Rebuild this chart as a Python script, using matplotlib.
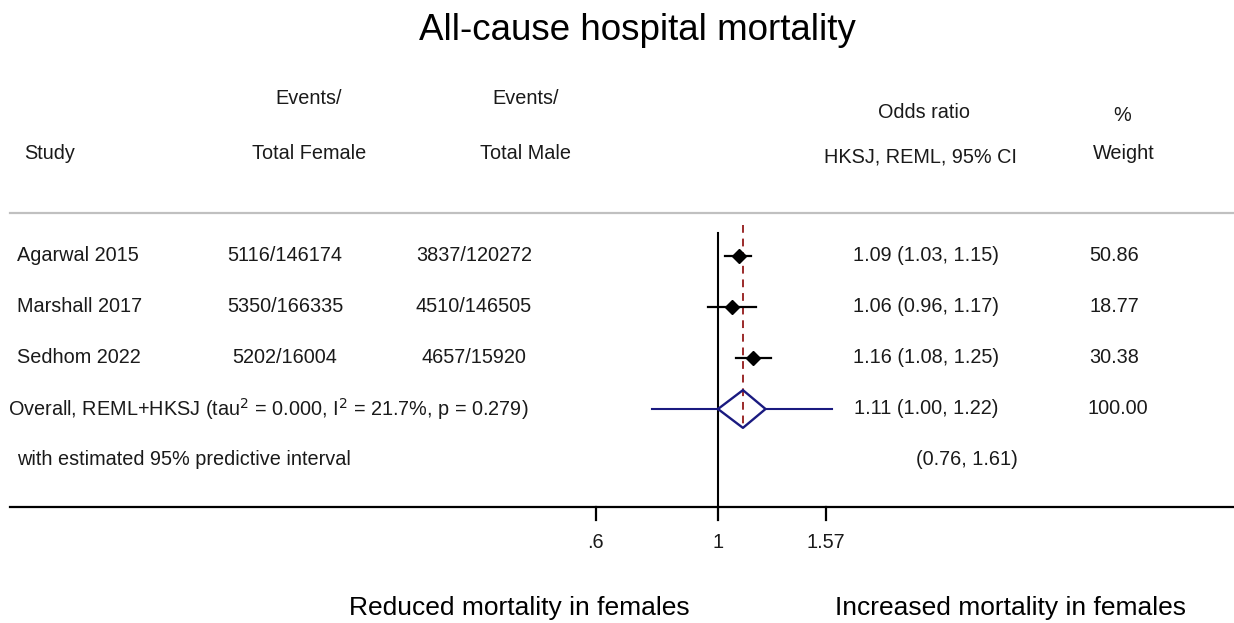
import numpy as np
import matplotlib
matplotlib.use("Agg")
import matplotlib.pyplot as plt
import matplotlib.transforms as mtransforms

plt.rcParams['font.family'] = ['Liberation Sans', 'DejaVu Sans']
plt.rcParams['text.color'] = '#1a1a1a'

# data
studies = ['Agarwal 2015', 'Marshall 2017', 'Sedhom 2022']
female = ['5116/146174', '5350/166335', '5202/16004']
male = ['3837/120272', '4510/146505', '4657/15920']
or_est = [1.09, 1.06, 1.16]
or_lo = [1.03, 0.96, 1.08]
or_hi = [1.15, 1.17, 1.25]
weights = ['50.86', '18.77', '30.38']

pooled = 1.11
pooled_lo = 1.00
pooled_hi = 1.22
pred_lo = 0.76
pred_hi = 1.61
tau2 = 0.000
i2 = 21.7
pval = 0.279

xticks = [0.6, 1, 1.57]
xtick_labels = ['.6', '1', '1.57']

W, H = 1234, 623
fig = plt.figure(figsize=(W / 100, H / 100), dpi=100)
ax = fig.add_axes([0, 0, 1, 1])
ax.set_xscale('log')

# log axis: 1 sits at pixel 718, ~239 px per ln unit
x_one, ppl = 718, 239.0
ax.set_xlim(np.exp((0 - x_one) / ppl), np.exp((W - x_one) / ppl))
# rows: row 0 at pixel 256, 51 px per row
y0, step = 256, 51.0
ax.set_ylim((H - y0) / step, (0 - y0) / step)
ax.axis('off')


def py(p):
    # pixel row -> data y
    return (p - y0) / step


tr = mtransforms.blended_transform_factory(fig.transFigure, ax.transData)


def col(px):
    return px / W


fs = 14.3
# title
ax.text(col(637), py(31), 'All-cause hospital mortality', transform=tr,
        ha='center', va='center', fontsize=26.5, color='black')

# headers
ax.text(col(309), py(98), 'Events/', transform=tr, ha='center', va='center', fontsize=fs)
ax.text(col(309), py(154), 'Total Female', transform=tr, ha='center', va='center', fontsize=fs)
ax.text(col(526), py(98), 'Events/', transform=tr, ha='center', va='center', fontsize=fs)
ax.text(col(526), py(154), 'Total Male', transform=tr, ha='center', va='center', fontsize=fs)
ax.text(col(24), py(154), 'Study', transform=tr, ha='left', va='center', fontsize=fs)
ax.text(col(924), py(113), 'Odds ratio', transform=tr, ha='center', va='center', fontsize=fs)
ax.text(col(920), py(157), 'HKSJ, REML, 95% CI', transform=tr, ha='center', va='center', fontsize=fs)
ax.text(col(1122), py(116), '%', transform=tr, ha='center', va='center', fontsize=fs)
ax.text(col(1124), py(154), 'Weight', transform=tr, ha='center', va='center', fontsize=fs)

# separator lines
ax.plot([col(10), 1], [py(213), py(213)], transform=tr, color='#c0c0c0', lw=1.6)
ax.plot([col(10), 1], [py(507), py(507)], transform=tr, color='black', lw=1.6)

rows = np.arange(len(studies))

# null line and pooled dashed line
ax.plot([1, 1], [py(233), py(507)], color='black', lw=1.5)
ax.plot([pooled, pooled], [py(225), py(425)], color='#9b2a2a', lw=1.4, ls=(0, (4, 3)))

for i in rows:
    ax.plot([or_lo[i], or_hi[i]], [i, i], color='black', lw=1.6)
    ax.plot(or_est[i], i, marker='D', color='black', ms=7.5)
    ax.text(col(17), i, studies[i], transform=tr, ha='left', va='center', fontsize=fs)
    ax.text(col(285), i, female[i], transform=tr, ha='center', va='center', fontsize=fs)
    ax.text(col(474), i, male[i], transform=tr, ha='center', va='center', fontsize=fs)
    ax.text(col(926), i, f'{or_est[i]:.2f} ({or_lo[i]:.2f}, {or_hi[i]:.2f})',
            transform=tr, ha='center', va='center', fontsize=fs)
    ax.text(col(1114), i, weights[i], transform=tr, ha='center', va='center', fontsize=fs)

# pooled diamond and predictive interval
r = len(studies)
navy = '#1a1a80'
ax.plot([pred_lo, pooled_lo], [r, r], color=navy, lw=1.5)
ax.plot([pooled_hi, pred_hi], [r, r], color=navy, lw=1.5)
ax.plot([pooled_lo, pooled, pooled_hi, pooled, pooled_lo],
        [r, r - 0.37, r, r + 0.37, r], color=navy, lw=1.7)
ax.text(col(8), r, f'Overall, REML+HKSJ (tau$^2$ = {tau2:.3f}, I$^2$ = {i2:.1f}%, p = {pval:.3f})',
        transform=tr, ha='left', va='center', fontsize=fs)
ax.text(col(926), r, f'{pooled:.2f} ({pooled_lo:.2f}, {pooled_hi:.2f})',
        transform=tr, ha='center', va='center', fontsize=fs)
ax.text(col(1118), r, '100.00', transform=tr, ha='center', va='center', fontsize=fs)
ax.text(col(17), r + 1, 'with estimated 95% predictive interval', transform=tr,
        ha='left', va='center', fontsize=fs)
ax.text(col(967), r + 1, f'({pred_lo:.2f}, {pred_hi:.2f})', transform=tr,
        ha='center', va='center', fontsize=fs)

# x ticks
for t, lab in zip(xticks, xtick_labels):
    ax.plot([t, t], [py(507), py(520)], color='black', lw=1.6)
    ax.text(t, py(542), lab, ha='center', va='center', fontsize=fs)

ax.text(col(519), py(608), 'Reduced mortality in females', transform=tr,
        ha='center', va='center', fontsize=19, color='black')
ax.text(col(1010), py(608), 'Increased mortality in females', transform=tr,
        ha='center', va='center', fontsize=19, color='black')

fig.savefig('out.png', dpi=100)
